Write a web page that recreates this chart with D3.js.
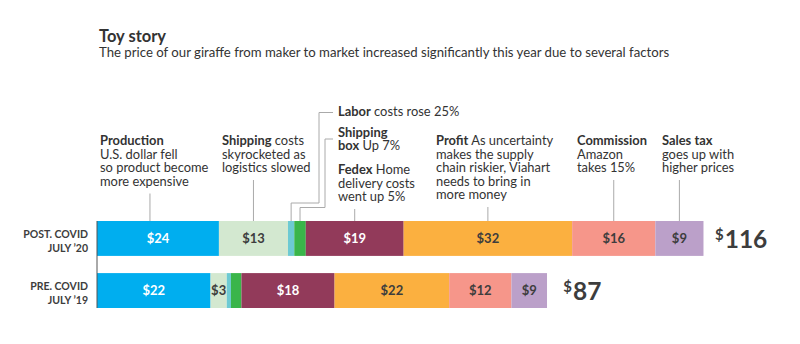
<!DOCTYPE html>
<html>
<head>
<meta charset="utf-8">
<script src="https://cdn.jsdelivr.net/npm/d3@7"></script>
<style>
  body { margin: 0; background: #fff; }
  text { font-family: Lato, "Open Sans", sans-serif; fill: #333; }
  .bold { font-weight: 700; }
</style>
</head>
<body>
<div id="chart"></div>
<script>
// data
var categories = ['Production', 'Shipping', 'Labor', 'Shipping box', 'Fedex', 'Profit', 'Commission', 'Sales tax'];
var rows = ['POST. COVID|JULY \u201920', 'PRE. COVID|JULY \u201919'];
var postValues = [23.3, 13.2, 1.2, 2.2, 18.7, 32.2, 15.9, 9.2];
var preValues = [21.7, 3.1, 0.8, 2.0, 17.8, 21.9, 11.9, 6.8];
var postLabels = ['$24', '$13', '', '', '$19', '$32', '$16', '$9'];
var preLabels = ['$22', '$3', '', '', '$18', '$22', '$12', '$9'];
var totals = [116, 87];
var colors = ['#00aeef', '#d3e8d0', '#6dcad3', '#3ab54a', '#923a5a', '#fbb040', '#f6968a', '#bba0c9'];
var whiteText = [true, false, false, false, true, false, false, false];

var width = 800;
var height = 344;

var svg = d3.select('#chart').append('svg')
  .attr('width', width)
  .attr('height', height);

// title
svg.append('text')
  .attr('x', 99)
  .attr('y', 42)
  .attr('class', 'bold')
  .style('font-size', '16.5px')
  .text('Toy story');

svg.append('text')
  .attr('x', 99)
  .attr('y', 57)
  .style('font-size', '13.2px')
  .text('The price of our giraffe from maker to market increased significantly this year due to several factors');

// scales
var xScale = d3.scaleLinear()
  .domain([0, 116])
  .range([97, 704]);

var yScale = d3.scaleBand()
  .domain(rows)
  .range([221, 308])
  .paddingInner(0.33);

var series = [postValues, preValues];
var labels = [postLabels, preLabels];

rows.forEach(function(row, r) {
  var segs = [];
  var start = 0;
  series[r].forEach(function(v, i) {
    segs.push({ i: i, x0: start, x1: start + v, label: labels[r][i] });
    start += v;
  });

  var g = svg.append('g').attr('class', 'row');

  g.selectAll('rect')
    .data(segs)
    .enter()
    .append('rect')
    .attr('x', function(d) { return xScale(d.x0); })
    .attr('y', yScale(row))
    .attr('width', function(d) { return xScale(d.x1) - xScale(d.x0); })
    .attr('height', yScale.bandwidth())
    .style('fill', function(d) { return colors[d.i]; });

  g.selectAll('.seg-label')
    .data(segs.filter(function(d) { return d.label !== ''; }))
    .enter()
    .append('text')
    .attr('class', 'bold seg-label')
    .attr('x', function(d) { return (xScale(d.x0) + xScale(d.x1)) / 2; })
    .attr('y', yScale(row) + yScale.bandwidth() / 2 + 4.5)
    .attr('text-anchor', 'middle')
    .style('font-size', '13px')
    .style('fill', function(d) { return whiteText[d.i] ? '#fff' : '#3d3d3d'; })
    .text(function(d) { return d.label; });

  // row label
  var parts = row.split('|');
  parts.forEach(function(p, k) {
    svg.append('text')
      .attr('class', 'bold')
      .attr('x', 88)
      .attr('y', yScale(row) + 17 + k * 13.5)
      .attr('text-anchor', 'end')
      .style('font-size', '10.5px')
      .style('fill', '#3d3d3d')
      .text(p);
  });

  // total
  var t = svg.append('text')
    .attr('class', 'bold')
    .attr('x', xScale(totals[r]) + 11)
    .attr('y', yScale(row) + 27)
    .style('fill', '#3d3d3d');
  t.append('tspan')
    .style('font-size', '15px')
    .attr('dy', -8)
    .text('$');
  t.append('tspan')
    .style('font-size', '24.5px')
    .attr('dy', 8)
    .attr('dx', 1)
    .text(totals[r]);
});

// left axis line
svg.append('line')
  .attr('x1', xScale(0))
  .attr('x2', xScale(0))
  .attr('y1', yScale(rows[0]))
  .attr('y2', yScale(rows[1]) + yScale.bandwidth())
  .style('stroke', '#555')
  .style('stroke-width', 1);

// annotations
var notes = [
  { cat: 0, x: 100, y: 145, dx: -8, lines: [[['Production', true]], [['U.S. dollar fell', false]], [['so product become', false]], [['more expensive', false]]] },
  { cat: 1, x: 222, y: 145, lines: [[['Shipping', true], [' costs', false]], [['skyrocketed as', false]], [['logistics slowed', false]]] },
  { cat: 2, x: 338, y: 116, elbow: { hy: 112.5, vx: 319, by: 203 }, lines: [[['Labor', true], [' costs rose 25%', false]]] },
  { cat: 3, x: 338, y: 136.5, elbow: { hy: 139, vx: 325, by: 207.5 }, lines: [[['Shipping', true]], [['box', true], [' Up 7%', false]]] },
  { cat: 4, x: 338, y: 174, lines: [[['Fedex', true], [' Home', false]], [['delivery costs', false]], [['went up 5%', false]]] },
  { cat: 5, x: 436, y: 145, lines: [[['Profit', true], [' As uncertainty', false]], [['makes the supply', false]], [['chain riskier, Viahart', false]], [['needs to bring in', false]], [['more money', false]]] },
  { cat: 6, x: 577, y: 145, lines: [[['Commission', true]], [['Amazon', false]], [['takes 15%', false]]] },
  { cat: 7, x: 662, y: 145, lines: [[['Sales tax', true]], [['goes up with', false]], [['higher prices', false]]] }
];

var lineH = 13.5;
var barTop = yScale(rows[0]);

function segCenter(i) {
  var s = d3.sum(postValues.slice(0, i));
  return (xScale(s) + xScale(s + postValues[i])) / 2;
}

notes.forEach(function(n) {
  var txt = svg.append('text')
    .attr('x', n.x)
    .attr('y', n.y)
    .style('font-size', '12.9px');
  n.lines.forEach(function(line, li) {
    line.forEach(function(part, pi) {
      var ts = txt.append('tspan')
        .text(part[0])
        .attr('class', part[1] ? 'bold' : null);
      if (pi === 0) {
        ts.attr('x', n.x).attr('dy', li === 0 ? 0 : lineH);
      }
    });
  });

  var cx = segCenter(n.cat) + (n.dx || 0);
  var pts;
  if (n.elbow) {
    pts = [[n.x - 5, n.elbow.hy], [n.elbow.vx, n.elbow.hy], [n.elbow.vx, n.elbow.by], [cx, n.elbow.by], [cx, barTop]];
  } else {
    var startY = n.y + (n.lines.length - 1) * lineH + 8;
    pts = [[cx, startY], [cx, barTop]];
  }
  svg.append('path')
    .attr('d', d3.line()(pts))
    .style('fill', 'none')
    .style('stroke', '#aaa')
    .style('stroke-width', 1);
});
</script>
</body>
</html>
